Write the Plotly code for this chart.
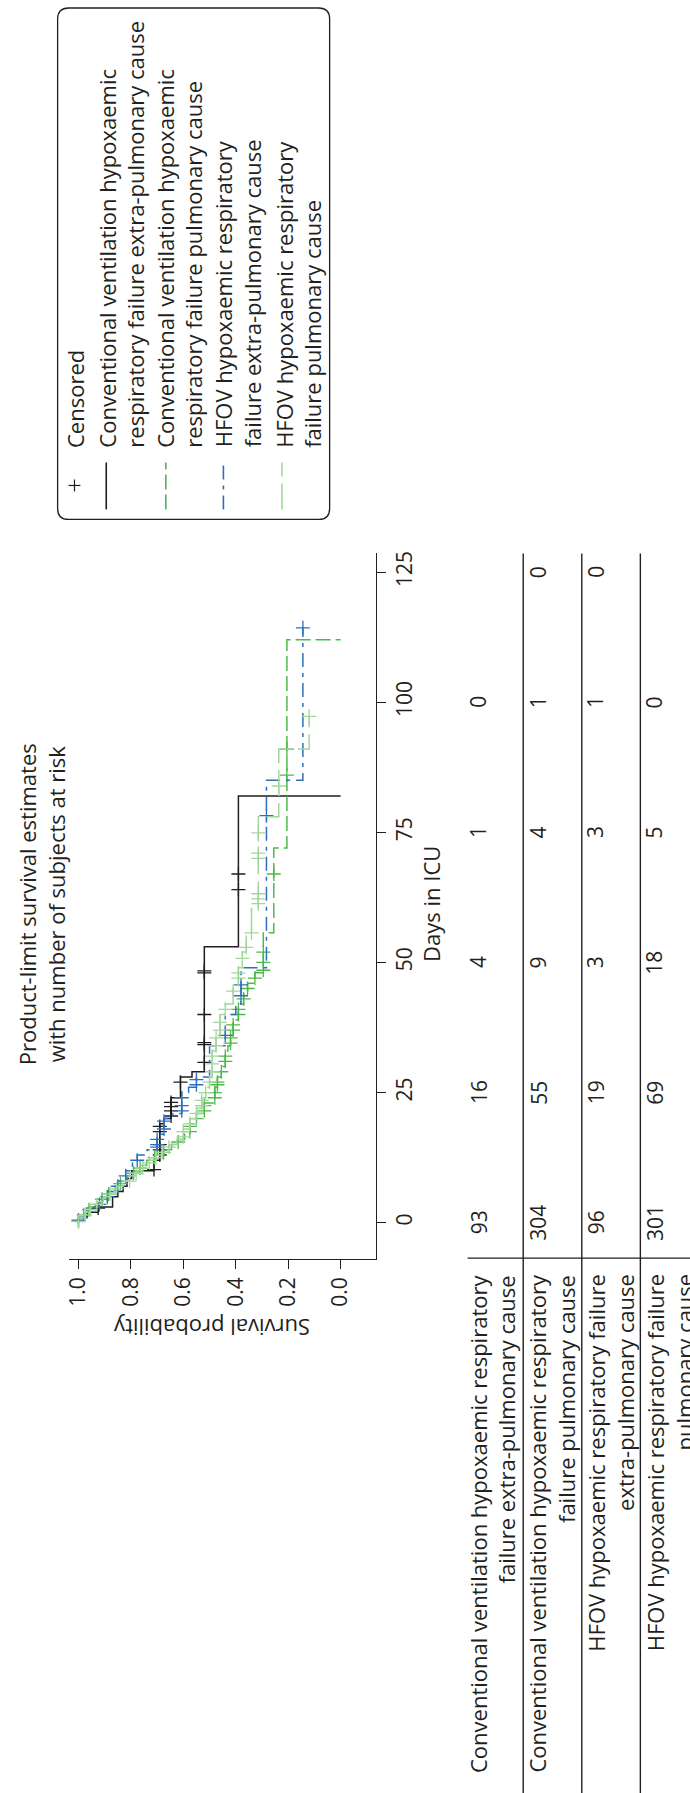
import numpy as np
import plotly.graph_objects as go

W, H = 690, 1793
FONT = "Open Sans"
INK = "#231f20"


def px(x):
    return x / W


def py(y):
    return 1 - y / H


# ---- Kaplan-Meier estimates (days in ICU, survival after each drop) ----
cv_extra_t = [0, 1, 2, 3, 5, 6, 7, 8.5, 10, 12, 19, 20, 24, 28, 29, 53, 82]
cv_extra_s = [1.0, 0.967, 0.925, 0.87, 0.85, 0.83, 0.815, 0.797, 0.712, 0.69,
              0.674, 0.647, 0.611, 0.567, 0.52, 0.39, 0.0]
cv_extra_cens = [2.8, 10.2, 13, 14, 15, 17.5, 18.5, 20.5, 21.5, 22.3, 23.1, 27,
                 30.8, 34.2, 34.6, 40, 48, 48.4, 64, 67]

cv_pulm_t = [0, 1, 2, 3, 4, 5, 6, 7, 8, 9, 10, 11, 12, 13, 14, 15, 16, 17, 19,
             21, 23, 26, 28, 30, 33, 34, 36, 39, 42, 44, 46, 48, 55.7, 72, 112]
cv_pulm_s = [1.0, 0.98, 0.96, 0.935, 0.91, 0.885, 0.86, 0.84, 0.815, 0.79,
             0.765, 0.74, 0.71, 0.675, 0.645, 0.62, 0.595, 0.575, 0.55, 0.52,
             0.48, 0.47, 0.455, 0.44, 0.43, 0.42, 0.41, 0.39, 0.37, 0.355,
             0.327, 0.295, 0.255, 0.205, 0.0]
cv_pulm_cens = [0.3, 1.5, 2.5, 4.5, 5.5, 7.5, 9.5, 10.5, 12.5, 13.5, 15.5, 17.5,
                18.5, 20, 21.5, 22.5, 24, 25, 26.5, 27, 29, 31, 32, 34.5, 35.5,
                37, 38, 40, 41, 43, 45, 47, 48.5, 50, 52, 67, 86, 91]

hfov_extra_t = [0, 1, 3, 4, 6, 8, 10, 11.5, 13, 14, 17, 20, 21, 25, 26, 28,
                34, 40, 42, 49, 85]
hfov_extra_s = [1.0, 0.968, 0.92, 0.89, 0.85, 0.82, 0.794, 0.776, 0.738, 0.70,
                0.674, 0.64, 0.606, 0.58, 0.55, 0.50, 0.44, 0.40, 0.38, 0.283,
                0.144]
hfov_extra_end = 114.3
hfov_extra_cens = [0.5, 3.5, 5, 7, 9, 12, 14.5, 15, 16, 18, 19.5, 21.5, 22.5,
                   24, 26.5, 27.5, 36, 43.6, 45.7, 78.2, 114.3]

hfov_pulm_t = [0, 1, 2, 3, 4, 5, 6, 7, 8, 9, 10, 11, 12, 13, 14, 15, 16, 18,
               20, 22, 24, 26, 28, 33, 36, 40, 42, 45, 49, 52, 55.7, 60.3, 78, 91]
hfov_pulm_s = [1.0, 0.975, 0.955, 0.93, 0.905, 0.88, 0.855, 0.83, 0.805, 0.78,
               0.755, 0.73, 0.705, 0.68, 0.655, 0.625, 0.60, 0.575, 0.55, 0.53,
               0.515, 0.50, 0.49, 0.475, 0.46, 0.44, 0.41, 0.39, 0.375, 0.36,
               0.34, 0.314, 0.236, 0.12]
hfov_pulm_end = 97.3
hfov_pulm_cens = [0.2, 1.5, 2.5, 3.5, 5.5, 6.5, 8, 9.5, 10.5, 11.5, 12.5, 13.5,
                  14.5, 16.5, 17.5, 19, 21, 22.5, 23.5, 25, 27, 29, 30.5, 32,
                  34, 35.5, 37, 38.5, 41, 44.5, 47, 48, 50.8, 52.9, 55.7, 61.3,
                  62.2, 63.2, 70, 71, 74.9, 83.9, 97.3]

# ---- number at risk table ----
risk_days = [0, 25, 50, 75, 100, 125]
risk_cv_extra = [93, 16, 4, 1, 0]
risk_cv_pulm = [304, 55, 9, 4, 1, 0]
risk_hfov_extra = [96, 19, 3, 3, 1, 0]
risk_hfov_pulm = [301, 69, 18, 5, 0]

row_labels = [
    "Conventional ventilation hypoxaemic respiratory<br>failure extra-pulmonary cause",
    "Conventional ventilation hypoxaemic respiratory<br>failure pulmonary cause",
    "HFOV hypoxaemic respiratory failure<br>extra-pulmonary cause",
    "HFOV hypoxaemic respiratory failure<br>pulmonary cause",
]
legend_labels = [
    "Censored",
    "Conventional ventilation hypoxaemic<br>respiratory failure extra-pulmonary cause",
    "Conventional ventilation hypoxaemic<br>respiratory failure pulmonary cause",
    "HFOV hypoxaemic respiratory<br>failure extra-pulmonary cause",
    "HFOV hypoxaemic respiratory<br>failure pulmonary cause",
]

surv_ticks = [0.0, 0.2, 0.4, 0.6, 0.8, 1.0]
surv_ticktext = ["0.0", "0.2", "0.4", "0.6", "0.8", "1.0"]
day_ticks = [0, 25, 50, 75, 100, 125]

BLACK = "#1e1e1e"
GREEN = "#4cb94a"
BLUE = "#2c6fbd"
LIGHT = "#a3d69b"
DASH_GREEN = "15px,5px"
DASH_BLUE = "14px,6px,4px,6px"
DASH_LIGHT = "26px,7px"

series = [
    (cv_extra_t, cv_extra_s, None, cv_extra_cens, BLACK, "solid"),
    (cv_pulm_t, cv_pulm_s, None, cv_pulm_cens, GREEN, DASH_GREEN),
    (hfov_extra_t, hfov_extra_s, hfov_extra_end, hfov_extra_cens, BLUE, DASH_BLUE),
    (hfov_pulm_t, hfov_pulm_s, hfov_pulm_end, hfov_pulm_cens, LIGHT, DASH_LIGHT),
]

fig = go.Figure()

# Survival is drawn on the horizontal axis and time runs upward.
for t, s, end, cens, color, dash in series:
    xs = list(s)
    ys = list(t)
    if end is not None:
        xs.append(s[-1])
        ys.append(end)
    fig.add_trace(go.Scatter(
        x=xs, y=ys, mode="lines",
        line=dict(shape="vh", color=color, width=1.5, dash=dash),
        hoverinfo="skip", showlegend=False))
    t_arr = np.asarray(t, dtype=float)
    s_arr = np.asarray(s, dtype=float)
    c_arr = np.asarray(cens, dtype=float)
    idx = np.searchsorted(t_arr, c_arr, side="right") - 1
    fig.add_trace(go.Scatter(
        x=s_arr[idx], y=c_arr, mode="markers",
        marker=dict(symbol="cross-thin", size=10, color=color,
                    line=dict(width=1.3, color=color)),
        hoverinfo="skip", showlegend=False))

shapes = []
annotations = []


def text(x, y, s, angle=-90, size=22, xanchor="center", yanchor="middle",
         align="center", yref="paper"):
    annotations.append(dict(
        x=x, y=y, xref="paper", yref=yref, text=s, textangle=angle,
        showarrow=False, xanchor=xanchor, yanchor=yanchor, align=align,
        font=dict(family=FONT, size=size, color=INK), borderpad=0))


def line(x0, y0, x1, y1, color=INK, width=1.4, dash="solid"):
    shapes.append(dict(type="line", xref="paper", yref="paper",
                       x0=px(x0), y0=py(y0), x1=px(x1), y1=py(y1),
                       line=dict(color=color, width=width, dash=dash)))


# Title and axis titles
text(px(37.5), py(903),
     "Product-limit survival estimates<br>with number of subjects at risk")
text(px(429), py(903), "Days in ICU")
text(px(208), py(1328), "Survival probability", angle=180)

# Number-at-risk table
risk_rows = [risk_cv_extra, risk_cv_pulm, risk_hfov_extra, risk_hfov_pulm]
risk_cols_x = [477, 537, 595, 654]
label_cols_x = [491, 551, 610, 669]
for row, cx in zip(risk_rows, risk_cols_x):
    for d, n in zip(risk_days, row):
        text(px(cx), d, str(n), size=21, yref="y")
for lab, cx in zip(row_labels, label_cols_x):
    text(px(cx), py(1273), lab, xanchor="center", yanchor="top", align="right")

line(466, 1257.5, 690, 1257.5)
for vx in [522, 581, 640]:
    line(vx, 552, vx, 1793)

# Legend frame


def rounded_rect(x0, y0, x1, y1, r):
    pts = [
        f"M{px(x0 + r)},{py(y0)}",
        f"L{px(x1 - r)},{py(y0)}",
        f"Q{px(x1)},{py(y0)} {px(x1)},{py(y0 + r)}",
        f"L{px(x1)},{py(y1 - r)}",
        f"Q{px(x1)},{py(y1)} {px(x1 - r)},{py(y1)}",
        f"L{px(x0 + r)},{py(y1)}",
        f"Q{px(x0)},{py(y1)} {px(x0)},{py(y1 - r)}",
        f"L{px(x0)},{py(y0 + r)}",
        f"Q{px(x0)},{py(y0)} {px(x0 + r)},{py(y0)}",
        "Z",
    ]
    return " ".join(pts)


shapes.append(dict(type="path", xref="paper", yref="paper",
                   path=rounded_rect(53, 6, 327, 518, 11),
                   line=dict(color=INK, width=1.3)))

# Legend keys
line(64, 484, 76, 484, width=1.2)
line(70, 478, 70, 490, width=1.2)
key_x = [102, 162, 220, 279]
key_style = [(BLACK, "solid"), (GREEN, DASH_GREEN), (BLUE, DASH_BLUE),
             (LIGHT, DASH_LIGHT)]
for kx, (c, d) in zip(key_x, key_style):
    line(kx, 508, kx, 461, color=c, width=1.6, dash=d)

legend_text_x = [70, 116.5, 175, 234.5, 295]
for lab, lx in zip(legend_labels, legend_text_x):
    text(px(lx), py(447), lab, xanchor="center", yanchor="bottom", align="left")

fig.update_layout(
    width=W, height=H, autosize=False,
    margin=dict(l=0, r=0, t=0, b=0, pad=0),
    paper_bgcolor="white", plot_bgcolor="white",
    font=dict(family=FONT, size=21, color=INK),
    shapes=shapes, annotations=annotations,
    xaxis=dict(domain=[px(64), px(374)], range=[1.038, -0.136],
               tickvals=surv_ticks, ticktext=surv_ticktext, tickangle=-90,
               ticks="outside", ticklen=9, tickwidth=1.3, tickcolor=INK,
               showline=True, linecolor=INK, linewidth=1.3,
               showgrid=False, zeroline=False, anchor="y",
               tickfont=dict(family=FONT, size=21, color=INK)),
    yaxis=dict(domain=[py(1258), py(552)], range=[-6.9, 128.6], side="right",
               tickvals=day_ticks, tickangle=-90,
               ticks="outside", ticklen=9, tickwidth=1.3, tickcolor=INK,
               showline=True, linecolor=INK, linewidth=1.3,
               showgrid=False, zeroline=False, anchor="x",
               tickfont=dict(family=FONT, size=21, color=INK)),
)

fig.write_html("out.html")
